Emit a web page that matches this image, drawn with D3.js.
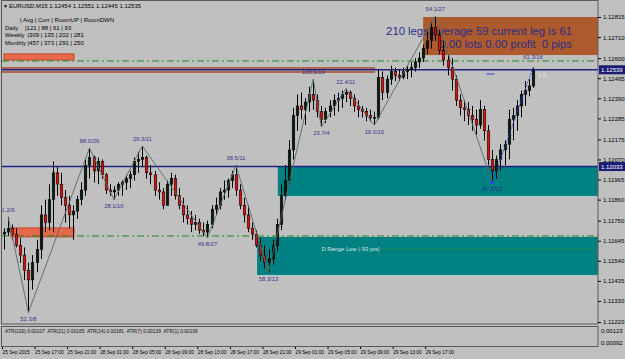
<!DOCTYPE html>
<html><head><meta charset="utf-8">
<script src="https://cdn.jsdelivr.net/npm/d3@7"></script>
<style>
html,body{margin:0;padding:0;background:#c0c0c0;overflow:hidden}
svg{display:block}
text{font-family:"Liberation Sans",Arial,sans-serif}
</style>
</head><body><svg id="c" width="625" height="359"></svg>
<script>
// ---------------- DATA ----------------
const symbolTitle = "EURUSD.M15";
const lastOHLC = [1.12454, 1.12551, 1.12445, 1.12535];

const opens = [1.1168,1.1169,1.1171,1.1168,1.1162,1.1157,1.1149,1.1144,1.1153,1.1160,
1.1178,1.1174,1.1186,1.1200,1.1194,1.1187,1.1183,1.1178,1.1180,1.1186,
1.1191,1.1204,1.1208,1.1201,1.1206,1.1199,1.1191,1.1190,1.1191,1.1194,
1.1195,1.1197,1.1199,1.1206,1.1207,1.1208,1.1200,1.1199,1.1191,1.1190,
1.1183,1.1194,1.1197,1.1188,1.1183,1.1178,1.1176,1.1173,1.1174,1.1170,
1.1169,1.1173,1.1181,1.1183,1.1190,1.1191,1.1196,1.1199,1.1191,1.1183,
1.1178,1.1171,1.1168,1.1162,1.1157,1.1153,1.1155,1.1162,1.1173,1.1188,
1.1196,1.1212,1.1230,1.1235,1.1233,1.1237,1.1241,1.1238,1.1232,1.1228,
1.1232,1.1235,1.1238,1.1239,1.1241,1.1242,1.1239,1.1235,1.1233,1.1232,
1.1230,1.1229,1.1229,1.1250,1.1242,1.1249,1.1253,1.1251,1.1250,1.1253,
1.1254,1.1255,1.1258,1.1260,1.1265,1.1269,1.1276,1.1272,1.1264,1.1259,
1.1255,1.1249,1.1238,1.1234,1.1233,1.1230,1.1228,1.1225,1.1233,1.1222,
1.1207,1.1201,1.1207,1.1212,1.1215,1.1228,1.1230,1.1235,1.1241,1.1243,
1.12454];
const highs = [1.1171,1.1177,1.1173,1.1171,1.1166,1.1161,1.1153,1.1157,1.1165,1.1183,
1.1186,1.1194,1.1206,1.1203,1.1200,1.1191,1.1188,1.1183,1.1188,1.1195,
1.1207,1.1213,1.1209,1.1208,1.1207,1.1200,1.1194,1.1193,1.1195,1.1196,
1.1199,1.1201,1.1208,1.1211,1.1214,1.1209,1.1204,1.1201,1.1195,1.1192,
1.1196,1.1200,1.1199,1.1192,1.1187,1.1183,1.1180,1.1178,1.1176,1.1174,
1.1175,1.1183,1.1187,1.1192,1.1196,1.1197,1.1201,1.1204,1.1194,1.1187,
1.1183,1.1174,1.1170,1.1166,1.1162,1.1160,1.1165,1.1176,1.1194,1.1204,
1.1217,1.1234,1.1241,1.1242,1.1239,1.1245,1.1249,1.1241,1.1235,1.1234,
1.1238,1.1241,1.1242,1.1243,1.1244,1.1243,1.1241,1.1238,1.1235,1.1234,
1.1233,1.1232,1.1254,1.1253,1.1251,1.1256,1.1255,1.1254,1.1255,1.1256,
1.1258,1.1260,1.1263,1.1267,1.1274,1.1279,1.1282,1.1275,1.1269,1.1262,
1.1260,1.1251,1.1241,1.1238,1.1237,1.1235,1.1233,1.1238,1.1235,1.1225,
1.1212,1.1209,1.1215,1.1217,1.1233,1.1234,1.1238,1.1243,1.1248,1.1249,
1.12551];
const lows = [1.1160,1.1167,1.1165,1.1161,1.1153,1.1144,1.1127,1.1139,1.1148,1.1155,
1.1169,1.1170,1.1169,1.1188,1.1183,1.1174,1.1171,1.1165,1.1176,1.1183,
1.1188,1.1197,1.1195,1.1194,1.1197,1.1189,1.1188,1.1186,1.1188,1.1188,
1.1191,1.1192,1.1196,1.1200,1.1203,1.1197,1.1194,1.1188,1.1186,1.1181,
1.1183,1.1188,1.1186,1.1181,1.1174,1.1173,1.1169,1.1170,1.1168,1.1167,
1.1166,1.1171,1.1178,1.1181,1.1186,1.1187,1.1192,1.1188,1.1181,1.1174,
1.1169,1.1165,1.1161,1.1154,1.1150,1.1148,1.1152,1.1159,1.1170,1.1186,
1.1194,1.1207,1.1222,1.1228,1.1225,1.1232,1.1233,1.1229,1.1224,1.1226,
1.1229,1.1230,1.1232,1.1234,1.1237,1.1235,1.1232,1.1229,1.1229,1.1227,
1.1227,1.1225,1.1228,1.1238,1.1239,1.1246,1.1248,1.1248,1.1249,1.1249,
1.1250,1.1253,1.1255,1.1258,1.1262,1.1265,1.1269,1.1262,1.1256,1.1251,
1.1243,1.1235,1.1230,1.1227,1.1225,1.1222,1.1220,1.1223,1.1217,1.1204,
1.1195,1.1197,1.1201,1.1204,1.1207,1.1217,1.1222,1.1229,1.1235,1.1240,
1.12445];
const closes = [1.1169,1.1171,1.1168,1.1162,1.1157,1.1149,1.1144,1.1153,1.1160,1.1178,
1.1174,1.1186,1.1200,1.1194,1.1187,1.1183,1.1178,1.1180,1.1186,1.1191,
1.1204,1.1208,1.1201,1.1206,1.1199,1.1191,1.1190,1.1191,1.1194,1.1195,
1.1197,1.1199,1.1206,1.1207,1.1208,1.1200,1.1199,1.1191,1.1190,1.1183,
1.1194,1.1197,1.1188,1.1183,1.1178,1.1176,1.1173,1.1174,1.1170,1.1169,
1.1173,1.1181,1.1183,1.1190,1.1191,1.1196,1.1199,1.1191,1.1183,1.1178,
1.1171,1.1168,1.1162,1.1157,1.1153,1.1155,1.1162,1.1173,1.1188,1.1196,
1.1212,1.1230,1.1235,1.1233,1.1237,1.1241,1.1238,1.1232,1.1228,1.1232,
1.1235,1.1238,1.1239,1.1241,1.1242,1.1239,1.1235,1.1233,1.1232,1.1230,
1.1229,1.1229,1.1250,1.1242,1.1249,1.1253,1.1251,1.1250,1.1253,1.1254,
1.1255,1.1258,1.1260,1.1265,1.1269,1.1276,1.1272,1.1264,1.1259,1.1255,
1.1249,1.1238,1.1234,1.1233,1.1230,1.1228,1.1225,1.1233,1.1222,1.1207,
1.1201,1.1207,1.1212,1.1215,1.1228,1.1230,1.1235,1.1241,1.1243,1.12454,
1.12535];

const priceTicks = [1.12815,1.12710,1.12600,1.12495,1.12390,1.12285,1.12175,1.12070,
  1.11965,1.11860,1.11750,1.11645,1.11540,1.11435,1.11330,1.11220];
const markedPrices = [1.12539, 1.12033];

const timeLabels = ["25 Sep 2015","25 Sep 17:00","25 Sep 21:00","28 Sep 01:00","28 Sep 05:00",
  "28 Sep 09:00","28 Sep 13:00","28 Sep 17:00","28 Sep 21:00","29 Sep 01:00","29 Sep 05:00",
  "29 Sep 09:00","29 Sep 13:00","29 Sep 17:00"];
const timeLabelBars = [0,8,16,24,32,40,48,56,64,72,80,88,96,104];

// zigzag swing points
const zigBars  = [1,6,21,27,34,50,57,65,76,78,84,91,106,120];
const zigKinds = ["H","L","H","L","H","L","H","L","H","L","H","L","H","L"];
const zigLabels = ["1.2/9","52.3/8","88.0/26","28.1/10","29.3/11","49.8/27","38.5/11",
  "58.3/13","105.5/19","23.7/4","22.4/11","19.0/10","54.1/27","87.6/23"];
const projBars = [120, 130];
const projLabel = "61.3/16";
const projRatio = "1.6";

// zones (bar index from/to, price top/bottom); null "to" = right edge
const zoneFrom   = [103, 67.3, 62.2, 0, 1.7];
const zoneTo     = [null, null, null, 17.2, 17.2];
const zoneTop    = [1.12815, 1.12033, 1.11665, 1.12622, 1.11712];
const zoneBottom = [1.12616, 1.11879, 1.11466, 1.12590, 1.11665];
const zoneKinds  = ["stats","teal","teal","orange","orange"];

// horizontal levels
const greenLevels = [1.12585, 1.11670];
const blueLevels = [1.12539, 1.12033];
const brownLevels = [1.12548, 1.12527];
const brownLevelEndBar = 91.2;
const rangeLowPrice = 1.11602;
const rangeLowText = "D Range Low (-93 pts)";
const rangeLowBar = 78;
const markerBar = 119.5, markerPrice = 1.12530;

const statsLine1 = "210 legs average 59 current leg is 61";
const statsLine2 = "0.00 lots 0.00 profit  0 pips";

const statHeader = "| Avg | Curr | RoomUP | RoomDWN";
const statRows = ["Daily","Weekly","Monthly"];
const statAvg  = [121,309,457];
const statCurr = [88,135,373];
const statUp   = [61,202,291];
const statDn   = [93,281,250];

const atrNames  = ["ATR(100)","ATR(21)","ATR(14)","ATR(7)","ATR(1)"];
const atrValues = ["0.00107","0.00165","0.00181","0.00139","0.00106"];
const atrTicks  = [0.00123, 0.00092];

// ---------------- DRAW ----------------
const W = 625, H = 359;
const plotL = 2, plotR = 598, plotT = 0.5, plotB = 324;
const svg = d3.select("#c");
const x = d3.scaleLinear().domain([0, 130]).range([4, 533]);
const y = d3.scaleLinear().domain([1.11220, 1.12815]).range([322, 17]);
const yA = d3.scaleLinear().domain([0.00092, 0.00123]).range([343, 331]);

svg.append("rect").attr("width", W).attr("height", H).attr("fill", "#c0c0c0");

const main = svg.append("g");

// zones
const zoneFill = {stats:"#ad5b2e", teal:"#008080", orange:"#e5694a"};
const zoneStroke = {stats:"none", teal:"none", orange:"#c8452a"};
zoneFrom.forEach((f, k) => {
  const x0 = Math.max(plotL, x(f));
  const x1 = zoneTo[k] == null ? plotR : x(zoneTo[k]);
  main.append("rect")
    .attr("x", x0).attr("y", y(zoneTop[k]))
    .attr("width", x1 - x0).attr("height", y(zoneBottom[k]) - y(zoneTop[k]))
    .attr("fill", zoneFill[zoneKinds[k]])
    .attr("stroke", zoneStroke[zoneKinds[k]]).attr("stroke-width", 1);
});
// light bottom edges of teal zones
[1,2].forEach(k => main.append("line").attr("x1", x(zoneFrom[k])).attr("x2", plotR)
  .attr("y1", y(zoneBottom[k]) + 0.5).attr("y2", y(zoneBottom[k]) + 0.5)
  .attr("stroke", "#a9c9c9").attr("stroke-width", 1));

// levels
greenLevels.forEach(p => main.append("line").attr("x1", plotL).attr("x2", plotR)
  .attr("y1", y(p)).attr("y2", y(p)).attr("stroke", "#1f8a1f").attr("stroke-width", 1)
  .attr("stroke-dasharray", "7,3,2,3"));
brownLevels.forEach(p => main.append("line").attr("x1", plotL).attr("x2", x(brownLevelEndBar))
  .attr("y1", y(p)).attr("y2", y(p)).attr("stroke", "#a84a2c").attr("stroke-width", 1.4));
blueLevels.forEach(p => main.append("line").attr("x1", plotL).attr("x2", plotR)
  .attr("y1", y(p)).attr("y2", y(p)).attr("stroke", "#222280").attr("stroke-width", 1.6));

// D range low
main.append("line").attr("x1", x(rangeLowBar) + 60).attr("x2", plotR)
  .attr("y1", y(rangeLowPrice)).attr("y2", y(rangeLowPrice))
  .attr("stroke", "#3a8a3a").attr("stroke-width", 1).attr("stroke-dasharray", "2,2");
main.append("text").attr("x", x(rangeLowBar)).attr("y", y(rangeLowPrice) + 2)
  .attr("font-size", 5.8).attr("fill", "#d6e4e4").text(rangeLowText);

// stats text
main.append("text").attr("x", 572).attr("y", 35).attr("text-anchor", "end")
  .attr("font-size", 11.3).attr("fill", "#2b2b86").text(statsLine1);
main.append("text").attr("x", 572).attr("y", 47.5).attr("text-anchor", "end")
  .attr("font-size", 11.3).attr("fill", "#2b2b86").attr("xml:space", "preserve")
  .style("white-space", "pre").text(statsLine2);

// candles
const bars = closes.map((c, i) => ({i, o: opens[i], h: highs[i], l: lows[i], c}));
const bw = 2.6;
const cg = main.append("g");
cg.selectAll("line.wick").data(bars).join("line")
  .attr("x1", d => Math.round(x(d.i)) + 0.5).attr("x2", d => Math.round(x(d.i)) + 0.5)
  .attr("y1", d => y(d.h)).attr("y2", d => y(d.l))
  .attr("stroke", "#000").attr("stroke-width", 1);
cg.selectAll("rect.body").data(bars).join("rect")
  .attr("x", d => Math.round(x(d.i)) + 0.5 - bw / 2)
  .attr("y", d => y(Math.max(d.o, d.c)))
  .attr("width", bw)
  .attr("height", d => Math.max(1, Math.abs(y(d.o) - y(d.c))))
  .attr("fill", d => d.c >= d.o ? "#0a1a0a" : "#d21010")
  .attr("stroke", "#000").attr("stroke-width", 0.5);

// zigzag
const zigPts = zigBars.map((b, k) => ({b, p: zigKinds[k] === "H" ? highs[b] : lows[b], k}));
main.append("path").datum(zigPts)
  .attr("d", d3.line().x(d => x(d.b)).y(d => y(d.p)))
  .attr("fill", "none").attr("stroke", "#566a6a").attr("stroke-width", 0.9);
main.selectAll("text.zl").data(zigPts).join("text")
  .attr("x", d => x(d.b)).attr("y", d => zigKinds[d.k] === "H" ? y(d.p) - 5 : y(d.p) + 8.5)
  .attr("text-anchor", "middle").attr("font-size", 5.8).attr("fill", "#33338e")
  .text(d => zigLabels[d.k]);

// projection
const pA = {b: projBars[0], p: lows[projBars[0]]}, pB = {b: projBars[1], p: highs[projBars[1]]};
main.append("line").attr("x1", x(pA.b)).attr("y1", y(pA.p)).attr("x2", x(pB.b)).attr("y2", y(pB.p))
  .attr("stroke", "#2a3cff").attr("stroke-width", 1).attr("stroke-dasharray", "1.5,1.5");
main.append("rect").attr("x", x(pA.b) - 1.5).attr("y", y(pA.p) - 1.5).attr("width", 3).attr("height", 3)
  .attr("fill", "#2a3cff");
main.append("text").attr("x", x(pB.b)).attr("y", y(pB.p) - 8).attr("text-anchor", "middle")
  .attr("font-size", 5.8).attr("fill", "#33338e").text(projLabel);
main.append("text").attr("x", x(pB.b) + 9).attr("y", y(lastOHLC[3]) + 6.5).attr("text-anchor", "middle")
  .attr("font-size", 5.8).attr("fill", "#e8e8e8").text(projRatio);
main.append("line").attr("x1", x(markerBar) - 4).attr("x2", x(markerBar) + 4)
  .attr("y1", y(markerPrice) + 2.5).attr("y2", y(markerPrice) + 2.5)
  .attr("stroke", "#3344cc").attr("stroke-width", 1);

// frames
svg.append("rect").attr("x", 1.5).attr("y", plotT).attr("width", plotR - 1.5).attr("height", plotB - plotT)
  .attr("fill", "none").attr("stroke", "#5a5a5a").attr("stroke-width", 1);
svg.append("rect").attr("x", 1.5).attr("y", 326.5).attr("width", plotR - 1.5).attr("height", 20)
  .attr("fill", "none").attr("stroke", "#5a5a5a").attr("stroke-width", 1);

// right price axis
const ax = svg.append("g").attr("transform", `translate(${plotR},0)`)
  .call(d3.axisRight(y).tickValues(priceTicks).tickSize(3).tickPadding(2).tickFormat(d3.format(".5f")));
ax.select(".domain").remove();
ax.selectAll("line").attr("stroke", "#000");
ax.selectAll("text").attr("font-size", 6).attr("fill", "#000")
  .attr("font-family", "Liberation Sans, Arial, sans-serif");

markedPrices.forEach(p => {
  svg.append("rect").attr("x", plotR + 1).attr("y", y(p) - 4.5).attr("width", 26).attr("height", 9)
    .attr("fill", "#1c1c72");
  svg.append("text").attr("x", plotR + 3).attr("y", y(p) + 2.2).attr("font-size", 6)
    .attr("fill", "#fff").text(d3.format(".5f")(p));
});

// ATR axis
const aax = svg.append("g").attr("transform", `translate(${plotR},0)`)
  .call(d3.axisRight(yA).tickValues(atrTicks).tickSize(0).tickPadding(3).tickFormat(d3.format(".5f")));
aax.select(".domain").remove();
aax.selectAll("text").attr("font-size", 6).attr("fill", "#000")
  .attr("font-family", "Liberation Sans, Arial, sans-serif");
svg.append("text").attr("x", 5).attr("y", 332.5).attr("font-size", 4.9).attr("fill", "#111")
  .attr("xml:space", "preserve").style("white-space", "pre")
  .text(atrNames.map((n, k) => n + " " + atrValues[k]).join("  "));

// time axis
const tax = svg.append("g").attr("transform", "translate(0,347)")
  .call(d3.axisBottom(x).tickValues(timeLabelBars).tickSize(2).tickPadding(2)
    .tickFormat((d, k) => timeLabels[k]));
tax.select(".domain").remove();
tax.selectAll("line").attr("stroke", "#000").attr("transform", "translate(-2,0)");
tax.selectAll("text").attr("font-size", 4.8).attr("fill", "#000").attr("text-anchor", "start")
  .attr("dx", -2).attr("font-family", "Liberation Sans, Arial, sans-serif");

// title and info
svg.append("text").attr("x", 3).attr("y", 7.5).attr("font-size", 5).attr("fill", "#000").text("\u25BC");
svg.append("text").attr("x", 9).attr("y", 8).attr("font-size", 6).attr("fill", "#000")
  .text(symbolTitle + " " + lastOHLC.map(d3.format(".5f")).join(" "));
svg.append("text").attr("x", 20).attr("y", 22).attr("font-size", 6).attr("fill", "#000")
  .attr("xml:space", "preserve").style("white-space", "pre").text(statHeader);
statRows.forEach((r, k) => {
  const yy = 30 + k * 7.4;
  svg.append("text").attr("x", 5).attr("y", yy).attr("font-size", 6).attr("fill", "#000").text(r);
  svg.append("text").attr("x", k === 0 ? 25 : 27.5).attr("y", yy).attr("font-size", 6).attr("fill", "#000")
    .attr("xml:space", "preserve").style("white-space", "pre")
    .text(`|${statAvg[k]} | ${statCurr[k]} | ${statUp[k]} | ${statDn[k]}`);
});
</script>
</body></html>
